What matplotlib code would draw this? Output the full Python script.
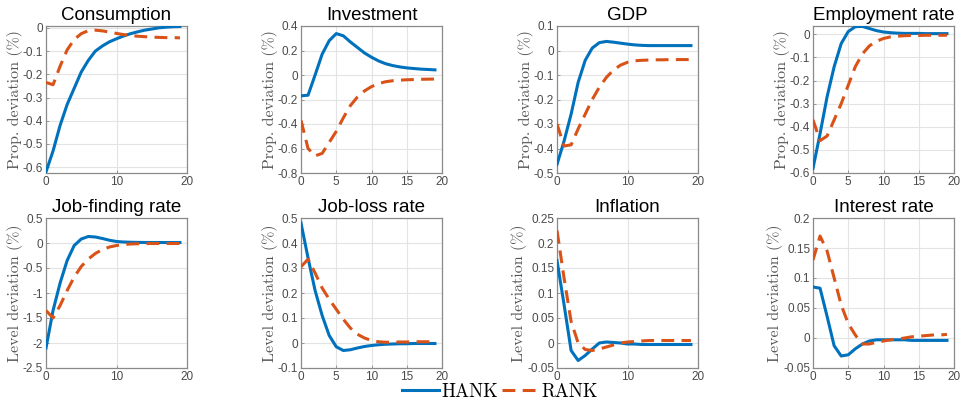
import matplotlib
matplotlib.use("Agg")
import matplotlib.pyplot as plt
import numpy as np

plt.rcParams['axes.unicode_minus'] = False

quarters = np.arange(20)

titles = ["Consumption", "Investment", "GDP", "Employment rate",
          "Job-finding rate", "Job-loss rate", "Inflation", "Interest rate"]
ylabels = ["Prop. deviation (%)"] * 4 + ["Level deviation (%)"] * 4

consumption_hank = [-0.62, -0.53, -0.42, -0.33, -0.26, -0.19, -0.14, -0.10, -0.078, -0.06,
                    -0.047, -0.035, -0.025, -0.017, -0.01, -0.005, 0.0, 0.003, 0.005, 0.006]
consumption_rank = [-0.235, -0.245, -0.165, -0.095, -0.05, -0.025, -0.012, -0.01, -0.013, -0.018,
                    -0.024, -0.029, -0.033, -0.036, -0.038, -0.04, -0.041, -0.042, -0.042, -0.043]

investment_hank = [-0.17, -0.165, 0.0, 0.17, 0.28, 0.338, 0.32, 0.27, 0.225, 0.18,
                   0.145, 0.115, 0.092, 0.077, 0.066, 0.058, 0.053, 0.048, 0.045, 0.042]
investment_rank = [-0.37, -0.60, -0.66, -0.64, -0.55, -0.46, -0.35, -0.25, -0.18, -0.13,
                   -0.095, -0.07, -0.055, -0.047, -0.042, -0.039, -0.037, -0.035, -0.034, -0.033]

gdp_hank = [-0.465, -0.37, -0.26, -0.13, -0.04, 0.01, 0.032, 0.037, 0.034, 0.03,
            0.026, 0.023, 0.021, 0.02, 0.02, 0.02, 0.02, 0.02, 0.02, 0.02]
gdp_rank = [-0.30, -0.39, -0.385, -0.32, -0.26, -0.20, -0.15, -0.11, -0.08, -0.06,
            -0.048, -0.042, -0.04, -0.039, -0.038, -0.038, -0.037, -0.037, -0.037, -0.037]

employment_hank = [-0.58, -0.43, -0.27, -0.14, -0.04, 0.012, 0.033, 0.034, 0.025, 0.016,
                   0.01, 0.007, 0.005, 0.004, 0.004, 0.004, 0.003, 0.003, 0.003, 0.003]
employment_rank = [-0.37, -0.46, -0.44, -0.37, -0.30, -0.22, -0.14, -0.085, -0.05, -0.03,
                   -0.018, -0.011, -0.008, -0.006, -0.005, -0.005, -0.004, -0.004, -0.004, -0.004]

job_finding_hank = [-2.1, -1.35, -0.8, -0.35, -0.05, 0.08, 0.13, 0.12, 0.09, 0.055,
                    0.03, 0.02, 0.015, 0.012, 0.011, 0.01, 0.01, 0.01, 0.01, 0.01]
job_finding_rank = [-1.35, -1.5, -1.25, -0.95, -0.68, -0.47, -0.32, -0.21, -0.13, -0.08,
                    -0.05, -0.03, -0.02, -0.015, -0.012, -0.01, -0.01, -0.01, -0.01, -0.01]

job_loss_hank = [0.48, 0.34, 0.21, 0.11, 0.03, -0.015, -0.03, -0.027, -0.02, -0.014,
                 -0.01, -0.007, -0.005, -0.004, -0.003, -0.003, -0.002, -0.002, -0.002, -0.002]
job_loss_rank = [0.305, 0.335, 0.28, 0.22, 0.175, 0.135, 0.095, 0.06, 0.035, 0.02,
                 0.01, 0.005, 0.003, 0.003, 0.004, 0.004, 0.005, 0.005, 0.005, 0.005]

inflation_hank = [0.165, 0.077, -0.015, -0.035, -0.025, -0.012, 0.0, 0.002, 0.001, 0.0,
                  -0.002, -0.002, -0.003, -0.003, -0.003, -0.003, -0.003, -0.003, -0.003, -0.003]
inflation_rank = [0.225, 0.13, 0.043, 0.0, -0.013, -0.015, -0.012, -0.008, -0.004, 0.0,
                  0.002, 0.003, 0.004, 0.005, 0.005, 0.005, 0.005, 0.005, 0.005, 0.005]

interest_hank = [0.085, 0.083, 0.036, -0.013, -0.03, -0.028, -0.018, -0.01, -0.005, -0.003,
                 -0.003, -0.003, -0.003, -0.003, -0.004, -0.004, -0.004, -0.004, -0.004, -0.004]
interest_rank = [0.13, 0.17, 0.145, 0.10, 0.055, 0.024, 0.005, -0.01, -0.01, -0.007,
                 -0.005, -0.003, -0.002, 0.0, 0.002, 0.003, 0.004, 0.005, 0.005, 0.006]

hank_series = [consumption_hank, investment_hank, gdp_hank, employment_hank,
               job_finding_hank, job_loss_hank, inflation_hank, interest_hank]
rank_series = [consumption_rank, investment_rank, gdp_rank, employment_rank,
               job_finding_rank, job_loss_rank, inflation_rank, interest_rank]

yticks = [
    [-0.6, -0.5, -0.4, -0.3, -0.2, -0.1, 0],
    [-0.8, -0.6, -0.4, -0.2, 0, 0.2, 0.4],
    [-0.5, -0.4, -0.3, -0.2, -0.1, 0, 0.1],
    [-0.6, -0.5, -0.4, -0.3, -0.2, -0.1, 0],
    [-2.5, -2, -1.5, -1, -0.5, 0, 0.5],
    [-0.1, 0, 0.1, 0.2, 0.3, 0.4, 0.5],
    [-0.05, 0, 0.05, 0.1, 0.15, 0.2, 0.25],
    [-0.05, 0, 0.05, 0.1, 0.15, 0.2],
]
ylims = [(-0.625, 0.008), (-0.8, 0.4), (-0.5, 0.1), (-0.6, 0.036),
         (-2.5, 0.5), (-0.1, 0.5), (-0.05, 0.25), (-0.05, 0.2)]
xticks = [[0, 10, 20], [0, 5, 10, 15, 20], [0, 10, 20], [0, 5, 10, 15, 20],
          [0, 10, 20], [0, 5, 10, 15, 20], [0, 10, 20], [0, 5, 10, 15, 20]]

HANK_COLOR = "#0072BD"
RANK_COLOR = "#D95319"
sans = ["Liberation Sans", "DejaVu Sans"]
serif = ["cmr10", "DejaVu Serif"]

W, H = 963, 405
fig = plt.figure(figsize=(W / 100, H / 100), dpi=100)

col_left = [46, 301, 557, 813]
col_width = 141
row_box = [(26, 173), (218, 368)]

lines = []
for i in range(8):
    r, c = divmod(i, 4)
    top, bot = row_box[r]
    ax = fig.add_axes([col_left[c] / W, 1 - bot / H, col_width / W, (bot - top) / H])
    h, = ax.plot(quarters, hank_series[i], color=HANK_COLOR, lw=2.2, zorder=3)
    rk, = ax.plot(quarters, rank_series[i], color=RANK_COLOR, lw=2.2,
                  dashes=(4.2, 2.4), zorder=3)
    if i == 0:
        lines = [h, rk]
    ax.set_xlim(0, 20)
    ax.set_ylim(*ylims[i])
    ax.set_xticks(xticks[i])
    ax.set_xticklabels([f"{v:g}" for v in xticks[i]])
    ax.set_yticks(yticks[i])
    ax.set_yticklabels([f"{v:g}" for v in yticks[i]])
    ax.grid(True, color="#e3e3e3", lw=0.8)
    ax.set_axisbelow(True)
    for s in ax.spines.values():
        s.set_color("#8a8a8a")
        s.set_linewidth(0.9)
    ax.tick_params(direction="in", length=2.5, width=0.6, color="#8a8a8a",
                   labelsize=8.5, labelcolor="#4a4a4a", pad=2)
    for lbl in ax.get_xticklabels() + ax.get_yticklabels():
        lbl.set_family(sans)
    ax.set_title(titles[i], fontsize=13.5, family=sans, pad=4)
    ax.set_ylabel(ylabels[i], fontsize=11.5, family=serif, color="#555555", labelpad=0)

fig.legend(lines, ["HANK", "RANK"], loc="center", bbox_to_anchor=(500 / W, 1 - 392 / H),
           ncol=2, frameon=False, prop={"family": serif, "size": 13.5},
           handlelength=2.0, columnspacing=0.25, handletextpad=0.1)

fig.savefig("out.png", dpi=100)
